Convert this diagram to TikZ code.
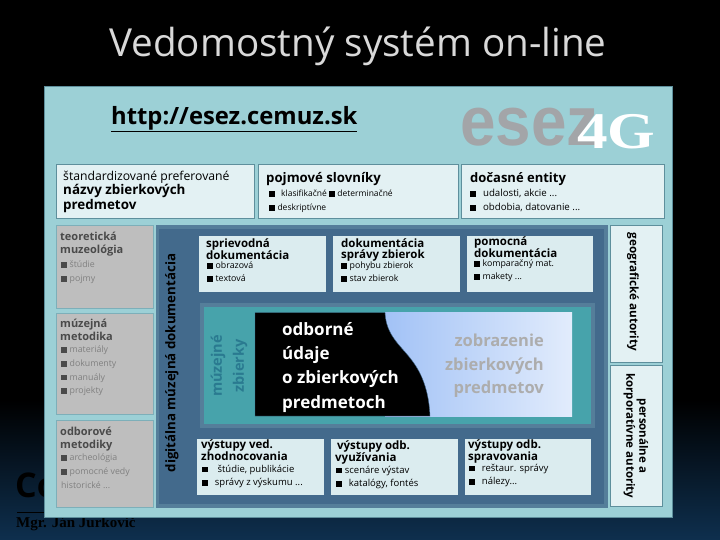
\documentclass[tikz,border=0pt]{standalone}
\usepackage{fontspec}
\setmainfont{Open Sans}
\newfontfamily\logofont{Liberation Sans}
\newfontfamily\serifbold{Liberation Serif}
\usetikzlibrary{shadings}
\definecolor{paneC}{HTML}{9CD0D6}
\definecolor{paneB}{HTML}{5E8F9C}
\definecolor{lightC}{HTML}{E3F1F3}
\definecolor{lightD}{HTML}{DBECEF}
\definecolor{grayC}{HTML}{BEBEBE}
\definecolor{grayT}{HTML}{4A4A4A}
\definecolor{grayL}{HTML}{808080}
\definecolor{blueO}{HTML}{557E9A}
\definecolor{blueI}{HTML}{436A8C}
\definecolor{tealC}{HTML}{47A3AB}
\definecolor{tealT}{HTML}{2A7A90}
\definecolor{navyA}{HTML}{0E2F4E}
\definecolor{logoG}{HTML}{A3A5A8}
\definecolor{skyA}{HTML}{A2C2F6}
\definecolor{skyB}{HTML}{E2ECFC}
\tikzset{
  x=1pt,y=-1pt,
  boxa/.style={draw=paneB,line width=.7pt,fill=lightC},
  boxb/.style={fill=lightD},
  boxg/.style={fill=grayC,draw=paneB!50!paneC,line width=.7pt},
  lbl/.style={inner sep=0pt,anchor=north west,align=left},
  head/.style={lbl,font=\bfseries\fontsize{11.5}{11}\selectfont,text=black},
  sub/.style={lbl,font=\fontsize{8.8}{13}\selectfont,text=black},
  subw/.style={lbl,font=\fontsize{9.5}{13.5}\selectfont,text=black},
  ghead/.style={lbl,font=\bfseries\fontsize{11}{12.5}\selectfont,text=grayT},
  gsub/.style={lbl,font=\fontsize{8.8}{13.6}\selectfont,text=grayL},
  rot/.style={inner sep=0pt,align=center,font=\bfseries\fontsize{11.7}{13}\selectfont},
}
\newcommand{\sq}{\textcolor{black}{\rule{5.5pt}{5.5pt}}\,\,}
\newcommand{\gq}{\textcolor{grayT}{\rule{5.5pt}{5.5pt}}\,\,}
\begin{document}
\begin{tikzpicture}
\useasboundingbox (0,0) rectangle (720,540);
\fill[black] (0,0) rectangle (720,400);
\shade[top color=black,bottom color=navyA] (0,400) rectangle (720,540);
\node[inner sep=0pt,text=white!85!black,font=\fontsize{38.6}{39}\selectfont] (title) at (358,46) {Vedomostný systém on-line};
% text behind the panel
\node[inner sep=0pt,anchor=west,font=\bfseries\fontsize{34}{34}\selectfont,text=black] (co) at (15,485) {Co};
\node[inner sep=0pt,anchor=west,font=\serifbold\bfseries\fontsize{15}{15}\selectfont,text=black] (author) at (16,524) {Mgr. Ján Jurkovič};
\fill[black] (17,511.5) rectangle (44,513);
% main panel
\node[draw=paneB,line width=.8pt,fill=paneC,minimum width=628pt,minimum height=431pt,inner sep=0pt,anchor=north west] (panel) at (44,86) {};
\node[inner sep=0pt,anchor=west,font=\bfseries\fontsize{23.8}{24}\selectfont,text=black] (url) at (111,119) {\underline{http://esez.cemuz.sk}};
% logo
\node[inner sep=0pt,anchor=west,text=logoG] (esez) at (460,127) {\logofont\bfseries\fontsize{44}{44}\selectfont\scalebox{1.45}[1.58]{esez}};
\node[inner sep=0pt,anchor=west,text=white] (fourg) at (577,132) {\serifbold\bfseries\fontsize{36}{36}\selectfont\scalebox{1.7}[1.43]{4G}};
% top row
\path[boxa] (56,164) rectangle (254,218);
\path[boxa] (258,164) rectangle (458,218);
\path[boxa] (461,164) rectangle (664,218);
\node[lbl,font=\fontsize{12.2}{14.5}\selectfont] (std) at (63,171) {štandardizované preferované\\[-.2pt]{\bfseries\fontsize{13.4}{14.5}\selectfont názvy zbierkových}\\[-.2pt]{\bfseries\fontsize{13.4}{14.5}\selectfont predmetov}};
\node[lbl,font=\bfseries\fontsize{13.2}{13}\selectfont] (poj) at (266,172) {pojmové slovníky};
\node[sub,font=\fontsize{8.5}{14}\selectfont] (pojs) at (269,190) {\sq\, klasifikačné \sq determinačné\\\sq deskriptívne};
\node[lbl,font=\bfseries\fontsize{13}{13}\selectfont] (doc) at (470,172) {dočasné entity};
\node[subw,font=\fontsize{9.7}{14}\selectfont] (docs) at (470,189) {\sq\, udalosti, akcie ...\\\sq\, obdobia, datovanie ...};
% gray boxes
\path[boxg] (56,225) rectangle (153,308);
\path[boxg] (56,313) rectangle (153,414);
\path[boxg] (56,420) rectangle (153,507);
\node[ghead] (t1) at (60,232) {teoretická\\muzeológia};
\node[gsub] (t1s) at (61,261) {\gq štúdie\\\gq pojmy};
\node[ghead] (t2) at (60,319) {múzejná\\metodika};
\node[gsub] (t2s) at (61,346) {\gq materiály\\\gq dokumenty\\\gq manuály\\\gq projekty};
\node[ghead] (t3) at (60,427) {odborové\\metodiky};
\node[gsub] (t3s) at (61,454) {\gq archeológia\\\gq pomocné vedy\\historické ...};
% blue panel
\fill[blueO] (156,225) rectangle (608,508);
\fill[blueI] (159,229) rectangle (604,504);
\node[rot,rotate=90,text=black,font=\bfseries\fontsize{13.3}{14}\selectfont] (digi) at (172,363) {digitálna múzejná dokumentácia};
% top inner
\path[boxb] (199,236) rectangle (326,292);
\path[boxb] (333,236) rectangle (460,292);
\path[boxb] (467,236) rectangle (593,292);
\node[head] (a1) at (206,238) {sprievodná\\dokumentácia};
\node[sub] (a1s) at (207,262) {\sq obrazová\\\sq textová};
\node[head] (a2) at (341,238) {dokumentácia\\správy zbierok};
\node[sub] (a2s) at (341,262) {\sq pohybu zbierok\\\sq stav zbierok};
\node[head] (a3) at (474,236) {pomocná\\dokumentácia};
\node[sub] (a3s) at (474,260) {\sq komparačný mat.\\\sq makety ...};
% central
\fill[blueO] (200,303) rectangle (595,428);
\fill[tealC] (204,307) rectangle (591,424);
\node[rot,rotate=90,text=tealT,font=\bfseries\fontsize{14.5}{22}\selectfont] (muz) at (229,366) {múzejné\\zbierky};
\shade[left color=skyA,right color=skyB] (385,312.5) rectangle (572,416);
\fill[black,draw=blueI,line width=.4pt] (255,312.5) -- (385,312.5) .. controls (386,335) and (400,345) .. (410,358) .. controls (424,375) and (429,395) .. (430,416) -- (255,416) -- cycle;
\node[lbl,font=\bfseries\fontsize{17}{24.3}\selectfont,text=white] (odb) at (282,322) {odborné\\údaje\\o zbierkových\\predmetoch};
\node[inner sep=0pt,align=right,anchor=north east,font=\bfseries\fontsize{16.5}{23.6}\selectfont,text=black!32] (zob) at (544,334) {zobrazenie\\zbierkových\\predmetov};
% bottom inner
\path[boxb] (197,439) rectangle (324,495);
\path[boxb] (331,439) rectangle (458,495);
\path[boxb] (465,439) rectangle (591,495);
\node[head] (b1) at (201,439) {výstupy ved.\\zhodnocovania};
\node[subw] (b1s) at (202,465) {\sq\;\, štúdie, publikácie\\\sq\, správy z výskumu ...};
\node[head] (b2) at (335,440) {\,výstupy odb.\\využívania};
\node[subw] (b2s) at (336,466) {\sq scenáre výstav\\\sq\, katalógy, fontés};
\node[head] (b3) at (468,439) {výstupy odb.\\spravovania};
\node[subw] (b3s) at (469,464) {\sq\, reštaur. správy\\\sq\, nálezy...};
% right boxes
\path[boxa] (610,225) rectangle (662,362);
\path[boxa] (610,365) rectangle (662,506);
\node[rot,rotate=-90,text=black] (geo) at (633,292) {geografické autority};
\node[rot,rotate=-90,text=black,font=\bfseries\fontsize{11.5}{13}\selectfont] (per) at (636,436) {personálne a\\korporatívne autority};
\end{tikzpicture}
\end{document}
